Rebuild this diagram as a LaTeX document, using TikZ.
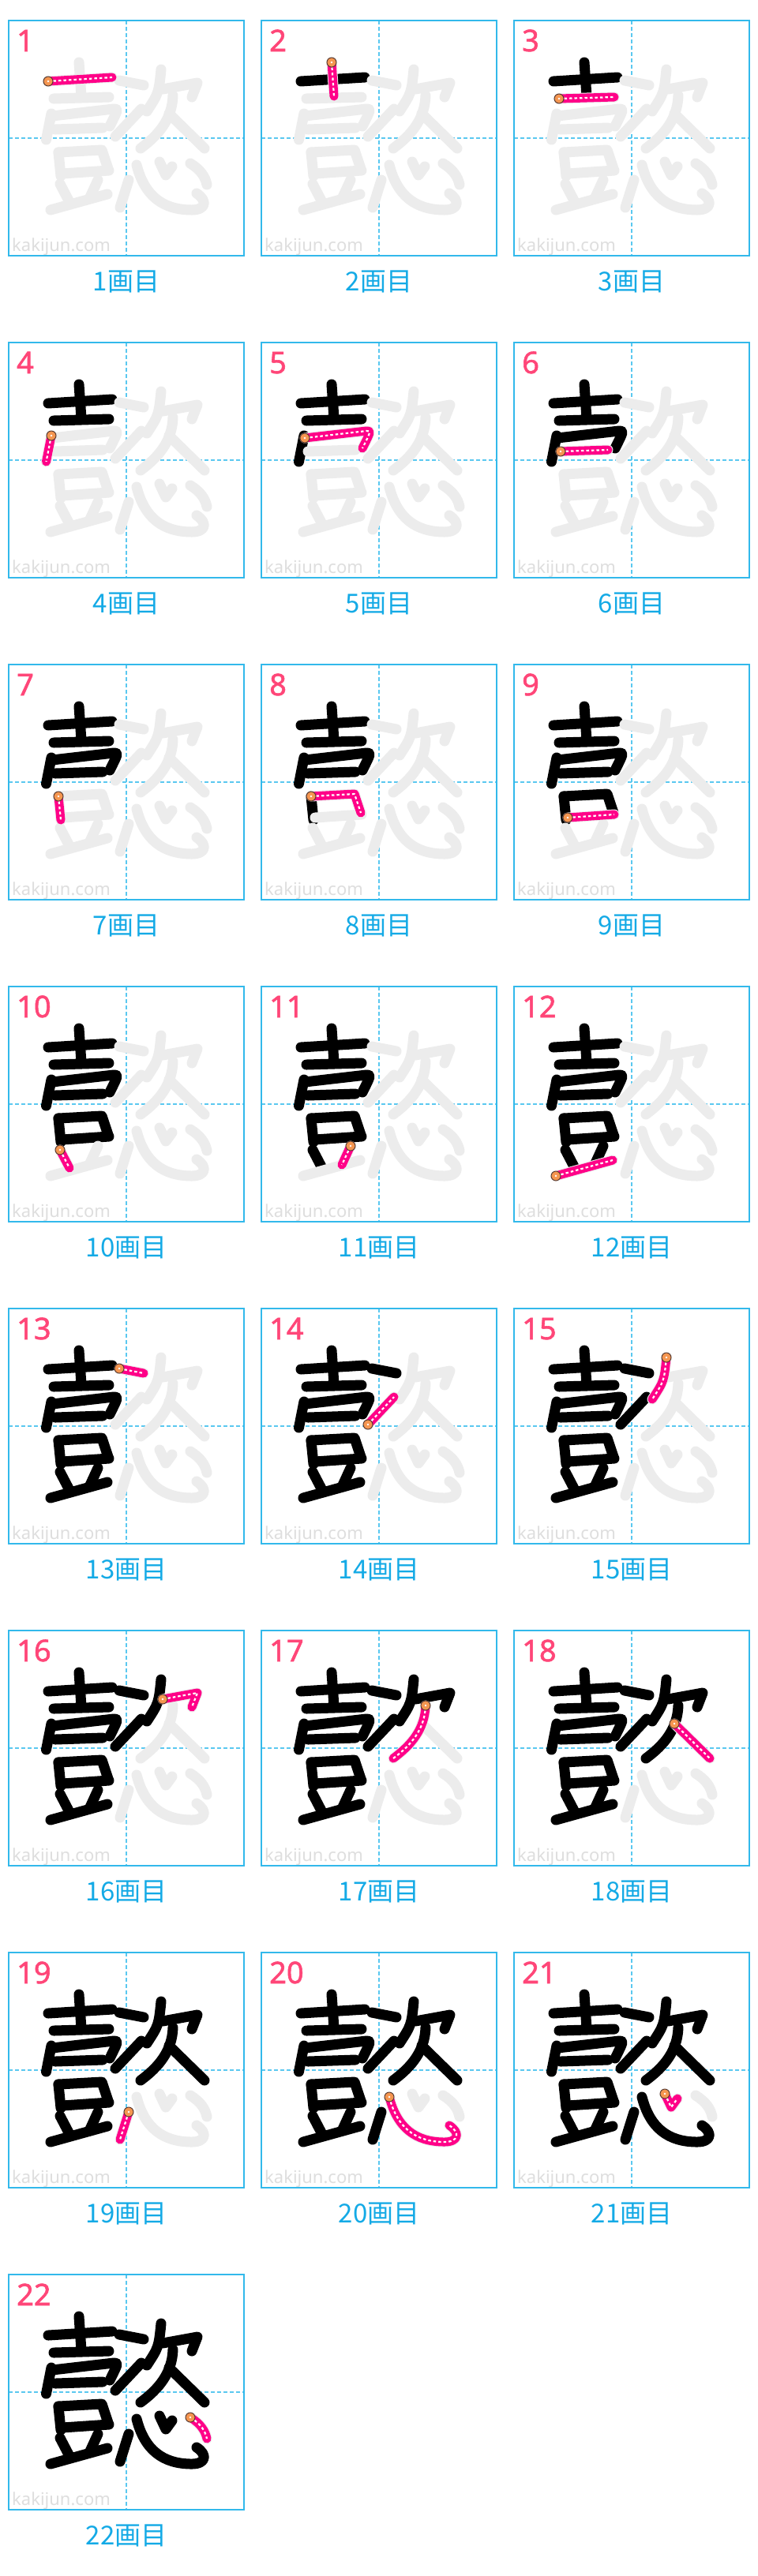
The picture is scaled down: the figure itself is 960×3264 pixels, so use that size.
\documentclass[tikz,border=0pt]{standalone}
\usepackage{fontspec}
\newfontfamily\jpfont{Noto Sans CJK JP}
\newfontfamily\numfont{Noto Sans}
\newfontfamily\labfont[FakeBold=1.5]{Noto Sans}
\definecolor{boxc}{RGB}{50,185,235}
\definecolor{guidec}{RGB}{90,200,240}
\definecolor{capc}{RGB}{20,170,230}
\definecolor{numc}{RGB}{255,70,120}
\definecolor{pinkc}{RGB}{255,0,136}
\definecolor{greyc}{RGB}{236,236,236}
\definecolor{wmc}{RGB}{222,222,222}
\definecolor{dotc}{RGB}{245,150,80}
\definecolor{dotb}{RGB}{90,60,50}
\def\defstk#1#2#3{\expandafter\def\csname stkS#1\endcsname{#2}\expandafter\def\csname stkP#1\endcsname{#2 #3}}
\def\drawstk#1#2{\expandafter\let\expandafter\tmpP\csname stkP#2\endcsname\draw[#1] \tmpP;}
\defstk{1}{(50,77)}{-- (131,72)}
\defstk{2}{(89,53)}{-- (92,96)}
\defstk{3}{(57,99)}{-- (127,97)}
\defstk{4}{(54,118)}{-- (47.5,151)}
\defstk{5}{(55,121)}{-- (133,112) .. controls (139,112) .. (128,134)}
\defstk{6}{(59,138)}{-- (119,136)}
\defstk{7}{(63,167)}{-- (66,197)}
\defstk{8}{(63,167)}{-- (118,164) -- (126,188)}
\defstk{9}{(68,194)}{-- (127,190)}
\defstk{10}{(65,207)}{-- (77,230)}
\defstk{11}{(113,202)}{-- (102,226)}
\defstk{12}{(53,240)}{-- (125,220)}
\defstk{13}{(140,76)}{-- (171,82)}
\defstk{14}{(135,147)}{-- (168,112)}
\defstk{15}{(193,62)}{.. controls (190,92) .. (175,115)}
\defstk{16}{(195,87)}{-- (239,79) -- (232,97)}
\defstk{17}{(208,95)}{.. controls (207,125) and (190,145) .. (167,162)}
\defstk{18}{(203,118)}{-- (248,162)}
\defstk{19}{(152,202)}{-- (141,237)}
\defstk{20}{(162,183)}{.. controls (172,222) and (195,240) .. (232,240) .. controls (250,240) and (252,228) .. (238,219)}
\defstk{21}{(191,179)}{-- (199,196) -- (207,185)}
\defstk{22}{(230,181)}{.. controls (243,189) and (249,198) .. (251,208)}
\tikzset{
  blk/.style={draw=black,line width=13pt,line cap=round,line join=round},
  gry/.style={draw=greyc,line width=13pt,line cap=round,line join=round},
  pnk/.style={draw=pinkc,line width=11pt,line cap=round,line join=round},
  wdash/.style={draw=white,line width=2.2pt,dash pattern=on 3.5pt off 3pt,line join=round},
  guide/.style={draw=guidec,line width=1.6pt,dash pattern=on 5pt off 3pt},
  panelbox/.style={draw=boxc,line width=1.6pt},
  stdot/.style={fill=dotc,draw=dotb,line width=1pt}
}
\begin{document}
\begin{tikzpicture}[x=1pt,y=-1pt]
\useasboundingbox (0,0) rectangle (960,3264);
\fill[white] (0,0) rectangle (960,3264);
\foreach \n in {1,...,22}{
  \pgfmathtruncatemacro\col{mod(\n-1,3)}
  \pgfmathtruncatemacro\row{div(\n-1,3)}
  \pgfmathsetmacro\xo{11+320*\col}
  \pgfmathsetmacro\yo{26+408*\row}
  \begin{scope}[shift={(\xo,\yo)}]
    \draw[guide] (149,0) -- (149,298);
    \draw[guide] (0,149) -- (298,149);
    \node[anchor=base west,inner sep=0,font=\numfont\fontsize{22}{22}\selectfont,text=wmc] (wm\n) at (4,292) {kakijun.com};
    \foreach \k in {1,...,22}{%
      \ifnum\k<\n \drawstk{blk}{\k}\else\drawstk{gry}{\k}\fi
    }
    \drawstk{pnk}{\n}
    \drawstk{wdash}{\n}
    \expandafter\let\expandafter\tmpS\csname stkS\n\endcsname
    \draw[stdot] \tmpS circle[radius=6pt];
    \fill[white] \tmpS circle[radius=1.3pt];
    \draw[panelbox] (0,0) rectangle (298,298);
    \node[anchor=base west,inner sep=0,font=\labfont\fontsize{38}{38}\selectfont,text=numc] (num\n) at (10,39) {\n};
    \node[font=\jpfont\fontsize{33}{33}\selectfont,text=capc,inner sep=0] (cap\n) at (149,331) {{\n}画目};
  \end{scope}
}
\end{tikzpicture}
\end{document}
